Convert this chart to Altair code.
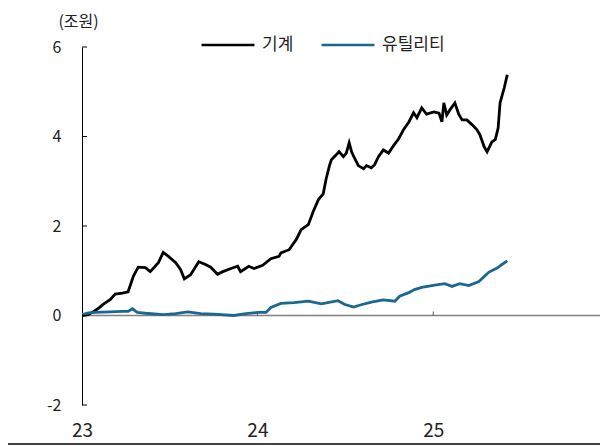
import altair as alt
import pandas as pd

series_names = ["기계", "유틸리티"]
series_colors = ["#000000", "#1a6791"]

mach_dates = [
    "2023-01-02", "2023-01-14", "2023-01-24", "2023-02-03", "2023-02-14", "2023-03-01",
    "2023-03-11", "2023-03-26", "2023-04-07", "2023-04-18", "2023-04-28", "2023-05-13",
    "2023-05-23", "2023-06-09", "2023-06-19", "2023-06-30", "2023-07-15", "2023-07-25",
    "2023-08-02", "2023-08-15", "2023-09-01", "2023-09-15", "2023-09-26", "2023-10-10",
    "2023-10-21", "2023-11-07", "2023-11-21", "2023-11-27", "2023-12-14", "2023-12-25",
    "2024-01-12", "2024-01-29", "2024-02-15", "2024-02-19", "2024-03-07", "2024-03-22",
    "2024-04-01", "2024-04-16", "2024-04-26", "2024-05-07", "2024-05-17", "2024-05-23",
    "2024-05-30", "2024-06-03", "2024-06-13", "2024-06-19", "2024-06-28", "2024-07-04",
    "2024-07-10", "2024-07-15", "2024-07-21", "2024-07-29", "2024-08-09", "2024-08-15",
    "2024-08-25", "2024-09-01", "2024-09-09", "2024-09-19", "2024-09-30", "2024-10-10",
    "2024-10-21", "2024-10-31", "2024-11-11", "2024-11-21", "2024-11-28", "2024-12-08",
    "2024-12-18", "2025-01-02", "2025-01-13", "2025-01-19", "2025-01-23", "2025-01-29",
    "2025-02-05", "2025-02-15", "2025-02-23", "2025-03-02", "2025-03-12", "2025-03-23",
    "2025-04-02", "2025-04-08", "2025-04-17", "2025-04-23", "2025-05-03", "2025-05-10",
    "2025-05-16", "2025-05-20", "2025-05-29", "2025-06-04",
]
mach_vals = [
    0.00, 0.02, 0.08, 0.15, 0.25, 0.36,
    0.48, 0.50, 0.53, 0.88, 1.08, 1.07,
    0.98, 1.18, 1.41, 1.32, 1.18, 1.03,
    0.82, 0.91, 1.20, 1.14, 1.08, 0.92,
    0.98, 1.05, 1.10, 0.98, 1.10, 1.05,
    1.12, 1.27, 1.32, 1.40, 1.47, 1.70,
    1.92, 2.03, 2.32, 2.59, 2.72, 3.05,
    3.35, 3.48, 3.59, 3.66, 3.55, 3.63,
    3.86, 3.66, 3.52, 3.35, 3.28, 3.35,
    3.30, 3.37, 3.55, 3.70, 3.63, 3.79,
    3.95, 4.15, 4.32, 4.53, 4.42, 4.64,
    4.50, 4.55, 4.52, 4.33, 4.75, 4.48,
    4.60, 4.75, 4.50, 4.37, 4.37, 4.26,
    4.15, 4.04, 3.77, 3.66, 3.88, 3.93,
    4.19, 4.75, 5.10, 5.38,
]

util_dates = [
    "2023-01-02", "2023-01-14", "2023-01-29", "2023-03-01", "2023-03-26", "2023-04-07",
    "2023-04-16", "2023-04-26", "2023-05-13", "2023-06-19", "2023-07-15", "2023-08-09",
    "2023-09-05", "2023-10-02", "2023-11-13", "2023-12-08", "2024-01-02", "2024-01-19",
    "2024-01-29", "2024-02-19", "2024-03-17", "2024-04-16", "2024-05-13", "2024-06-17",
    "2024-06-30", "2024-07-19", "2024-08-04", "2024-08-25", "2024-09-19", "2024-10-13",
    "2024-10-23", "2024-11-11", "2024-11-23", "2024-12-08", "2025-01-04", "2025-01-25",
    "2025-02-09", "2025-02-25", "2025-03-16", "2025-04-06", "2025-04-27", "2025-05-14",
    "2025-05-24", "2025-06-04",
]
util_vals = [
    0.02, 0.06, 0.07, 0.08, 0.09, 0.09,
    0.15, 0.07, 0.05, 0.02, 0.04, 0.08,
    0.04, 0.03, 0.00, 0.04, 0.07, 0.07,
    0.18, 0.27, 0.29, 0.32, 0.26, 0.33,
    0.25, 0.19, 0.24, 0.30, 0.35, 0.32,
    0.43, 0.51, 0.58, 0.63, 0.68, 0.71,
    0.65, 0.71, 0.67, 0.76, 0.97, 1.06,
    1.14, 1.22,
]

y_ticks = [-2, 0, 2, 4, 6]
x_tick_dates = ["2024-01-01", "2025-01-01"]
FONT = "Noto Sans CJK KR"

df = pd.concat([
    pd.DataFrame({"date": mach_dates, "value": mach_vals, "series": series_names[0]}),
    pd.DataFrame({"date": util_dates, "value": util_vals, "series": series_names[1]}),
])

x_scale = alt.Scale(domain=[alt.DateTime(year=2023, month=1, date=1),
                            alt.DateTime(year=2025, month=12, date=14)])
y_scale = alt.Scale(domain=[-2, 6], nice=False)

x_axis = alt.Axis(values=[alt.DateTime(year=2023, month=1, date=1),
                          alt.DateTime(year=2024, month=1, date=1),
                          alt.DateTime(year=2025, month=1, date=1)],
                  format="%y", title=None, domain=False, ticks=False, grid=False,
                  labelFlush=False,
                  labelFontSize=19, labelPadding=16, labelColor="#222222",
                  labelFont=FONT)
y_axis = alt.Axis(values=y_ticks, ticks=False, grid=False, domain=True,
                  domainColor="#000000", domainWidth=1,
                  labelExpr="'' + datum.value",
                  labelFontSize=16, labelPadding=21, labelColor="#222222",
                  labelFont=FONT,
                  title="(조원)", titleAngle=0, titleX=-4, titleY=-26,
                  titleAlign="center", titleBaseline="middle",
                  titleFontSize=16, titleFontWeight="normal",
                  titleColor="#222222", titleFont=FONT)

zero = alt.Chart(pd.DataFrame({"z": [0]})).mark_rule(color="#808080", strokeWidth=1.5).encode(
    y=alt.Y("value:Q", scale=y_scale, axis=y_axis),
).transform_calculate(value="0")

xticks = alt.Chart(pd.DataFrame({"date": x_tick_dates})).mark_rule(color="#555555", strokeWidth=1).encode(
    x=alt.X("date:T", scale=x_scale, axis=x_axis),
    y=alt.datum(0),
    y2=alt.datum(0.09),
)

lines = alt.Chart(df).mark_line(strokeWidth=2.8).encode(
    x=alt.X("date:T", scale=x_scale, axis=x_axis),
    y=alt.Y("value:Q", scale=y_scale, axis=y_axis),
    color=alt.Color("series:N", sort=series_names,
                    scale=alt.Scale(domain=series_names, range=series_colors),
                    legend=alt.Legend(title=None, orient="none", legendX=118, legendY=-30,
                                      direction="horizontal", symbolType="stroke",
                                      symbolSize=2800, symbolStrokeWidth=2.5,
                                      labelFontSize=17, labelFont=FONT, labelOffset=6,
                                      columnPadding=22, labelColor="#222222")),
)

yticks = alt.Chart(pd.DataFrame({"value": y_ticks})).mark_rule(color="#000000", strokeWidth=1).encode(
    y=alt.Y("value:Q", scale=y_scale, axis=y_axis),
    x=alt.value(0),
    x2=alt.value(5),
)

sep = alt.Chart(pd.DataFrame({"a": [0]})).mark_rule(color="#000000", strokeWidth=1.5).encode(
    x=alt.value(-74), x2=alt.value(518), y=alt.value(397)
)

chart = alt.layer(zero, xticks, lines, yticks, sep).properties(
    width=518, height=358,
    autosize=alt.AutoSizeParams(type="none"),
    padding={"left": 74, "top": 39, "right": 0, "bottom": 41},
).configure_view(stroke=None)

chart.save("out.html", embed_options={"renderer": "svg", "actions": False})
